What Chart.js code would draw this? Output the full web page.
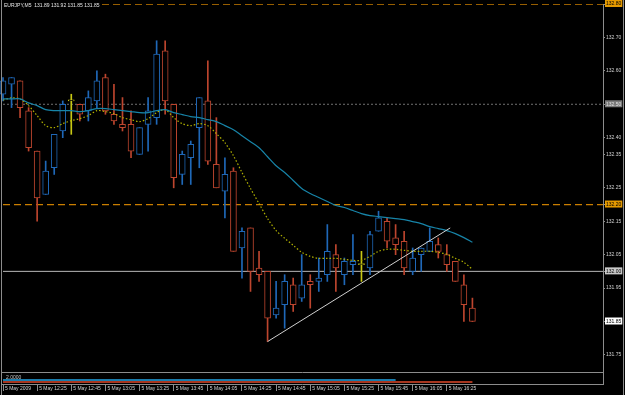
<!DOCTYPE html>
<html>
<head>
<meta charset="utf-8">
<script src="https://cdn.jsdelivr.net/npm/chart.js@4"></script>
<style>
  html, body { margin: 0; padding: 0; background: #000; }
  canvas { display: block; }
</style>
</head>
<body>
<canvas id="chart" width="625" height="395" style="width:625px;height:395px"></canvas>
<script>
// EURJPY M5, 5 May 2009, 12:05 .. 16:40 (one entry per bar)
const open = [132.53,132.56,132.57,132.48,132.36,132.23,132.31,132.42,132.51,132.50,132.48,132.51,132.58,132.47,132.44,132.44,132.35,132.44,132.46,132.66,132.50,132.29,132.34,132.43,132.51,132.32,132.24,132.30,132.07,132.13,132.01,132.00,131.87,131.90,131.96,131.92,131.97,131.97,131.99,132.05,131.99,132.02,132.02,132.01,132.12,132.15,132.10,132.09,132.00,132.05,132.06,132.08,132.05,132.03,131.96,131.89];
const high = [132.58,132.58,132.57,132.49,132.36,132.33,132.41,132.51,132.53,132.50,132.54,132.60,132.59,132.56,132.52,132.48,132.43,132.52,132.69,132.69,132.50,132.36,132.39,132.52,132.63,132.46,132.34,132.31,132.13,132.13,132.06,132.00,131.97,131.99,131.98,132.05,131.99,132.04,132.14,132.08,132.04,132.11,132.06,132.12,132.18,132.16,132.14,132.12,132.07,132.07,132.13,132.10,132.08,132.03,131.99,131.92];
const low = [132.51,132.49,132.46,132.36,132.15,132.23,132.29,132.40,132.41,132.45,132.45,132.49,132.47,132.44,132.42,132.34,132.35,132.36,132.44,132.47,132.25,132.26,132.26,132.31,132.32,132.25,132.16,132.06,131.98,131.94,131.97,131.79,131.86,131.83,131.88,131.91,131.89,131.94,131.97,131.94,131.96,131.99,131.97,131.99,132.12,132.07,132.05,131.99,131.99,132.00,132.06,132.04,132.00,131.97,131.85,131.85];
const close = [132.57,132.58,132.49,132.37,132.22,132.30,132.41,132.50,132.51,132.47,132.52,132.57,132.48,132.45,132.43,132.36,132.43,132.48,132.65,132.51,132.28,132.35,132.38,132.52,132.33,132.25,132.29,132.06,132.12,132.00,131.99,131.86,131.89,131.97,131.90,131.96,131.96,131.98,132.06,132.01,132.03,132.03,132.02,132.11,132.16,132.09,132.08,132.01,132.04,132.07,132.09,132.06,132.02,131.97,131.90,131.85];

// slow moving average (teal) and fast moving average (yellow dotted)
const maSlow = [132.516,132.516,132.516,132.504,132.496,132.484,132.481,132.481,132.481,132.478,132.481,132.487,132.487,132.484,132.481,132.478,132.475,132.475,132.481,132.484,132.475,132.469,132.463,132.460,132.454,132.448,132.436,132.424,132.406,132.388,132.370,132.343,132.316,132.296,132.272,132.248,132.233,132.221,132.209,132.197,132.191,132.182,132.173,132.167,132.164,132.161,132.158,132.155,132.149,132.143,132.134,132.128,132.122,132.113,132.101,132.087];
const maFast = [132.513,132.519,132.516,132.496,132.466,132.436,132.430,132.442,132.451,132.457,132.466,132.481,132.478,132.472,132.460,132.454,132.448,132.457,132.475,132.484,132.460,132.442,132.436,132.442,132.436,132.412,132.385,132.346,132.296,132.248,132.203,132.158,132.122,132.099,132.078,132.057,132.045,132.039,132.039,132.039,132.036,132.033,132.033,132.045,132.060,132.066,132.066,132.063,132.060,132.060,132.060,132.057,132.051,132.039,132.027,132.006];

// trend line (bar index, price)
const trendX = [31, 52.4];
const trendY = [131.79, 132.13];

// horizontal levels
const levelOrange = [132.80, 132.20];
const levelDotted = 132.50;
const levelSolid = 132.00;

// sub window lines (bar index range, value)
const subBlue = [[0, 0.67], [46, 0.67]];
const subRed = [[0, 0.33], [55, 0.33]];
const subLabel = '2.0000';

// axes
const priceTicks = [132.80, 132.70, 132.60, 132.50, 132.40, 132.35, 132.25, 132.20, 132.15, 132.05, 132.00, 131.95, 131.85, 131.75];
const boxedTicks = { '132.80': '#e59a00', '132.50': '#7a7a7a', '132.20': '#e59a00', '132.00': '#c8c8c8', '131.85': '#ffffff' };
const tickBars = [0, 4, 8, 12, 16, 20, 24, 28, 32, 36, 40, 44, 48, 52];
const tickLabels = ['5 May 2009', '5 May 12:25', '5 May 12:45', '5 May 13:05', '5 May 13:25', '5 May 13:45', '5 May 14:05', '5 May 14:25', '5 May 14:45', '5 May 15:05', '5 May 15:25', '5 May 15:45', '5 May 16:05', '5 May 16:25'];
const header = 'EURJPY,M5  131.89 131.92 131.85 131.85';

const mainBottom = 131.70;
const BG = '#000000';
const UP = '#1f68b8';
const DOWN = '#bd452e';
const DOJI = '#c8c814';
const FONT = 'Liberation Sans';

const candleColor = i => close[i] > open[i] ? UP : (close[i] < open[i] ? DOWN : DOJI);
const idx = open.map((_, i) => i);
const colors = idx.map(candleColor);
const xMax = 70.3;

const frame = {
  id: 'frame',
  beforeDraw(chart) {
    const c = chart.ctx;
    c.save();
    c.fillStyle = BG;
    c.fillRect(0, 0, chart.width, chart.height);
    c.restore();
  },
  afterDraw(chart) {
    const c = chart.ctx, a = chart.chartArea;
    const yb = Math.round(chart.scales.y.getPixelForValue(mainBottom)) + 0.5;
    c.save();
    c.strokeStyle = '#8c8c8c';
    c.lineWidth = 1;
    c.beginPath();
    c.moveTo(1.5, 0); c.lineTo(1.5, chart.height);
    c.moveTo(2, yb); c.lineTo(a.right, yb);
    c.moveTo(2, a.bottom + 0.5); c.lineTo(a.right, a.bottom + 0.5);
    c.moveTo(623.5, 0); c.lineTo(623.5, chart.height);
    c.stroke();
    c.fillStyle = BG;
    c.fillRect(3, 0, 98, 9);
    c.fillStyle = '#e6e6e6';
    c.font = '5px "' + FONT + '"';
    c.textBaseline = 'top';
    c.fillText(header, 4, 3);
    c.fillStyle = '#c8c8c8';
    c.fillText(subLabel, 6, yb + 3);
    c.restore();
  }
};

const hLine = (v, color, dash, width) => ({
  type: 'line',
  data: [{ x: 0, y: v }, { x: xMax, y: v }],
  borderColor: color, borderWidth: width, borderDash: dash,
  pointRadius: 0, order: 5, yAxisID: 'y'
});

new Chart(document.getElementById('chart'), {
  type: 'bar',
  data: {
    datasets: [
      ...levelOrange.map(v => hLine(v, '#c97e00', [7, 4], 1.3)),
      hLine(levelDotted, '#707070', [2, 2], 1),
      hLine(levelSolid, '#b8b8b8', [], 1),
      {
        label: 'wicks',
        data: idx.map(i => ({ x: i, y: [low[i], high[i]] })),
        backgroundColor: colors,
        barThickness: 1,
        grouped: false,
        order: 3,
        clip: false
      },
      {
        label: 'bodies',
        data: idx.map(i => ({ x: i, y: [open[i], close[i]] })),
        backgroundColor: BG,
        borderColor: colors,
        borderWidth: 1,
        borderSkipped: false,
        barThickness: 6,
        minBarLength: 1,
        grouped: false,
        order: 2,
        clip: false
      },
      {
        type: 'line',
        data: idx.map(i => ({ x: i, y: maSlow[i] })),
        borderColor: '#1784a8', borderWidth: 1.2,
        pointRadius: 0, tension: 0.3, order: 1
      },
      {
        type: 'line',
        data: idx.map(i => ({ x: i, y: maFast[i] })),
        borderColor: '#b0b000', borderWidth: 1.2, borderDash: [1.5, 2],
        pointRadius: 0, tension: 0.3, order: 1
      },
      {
        type: 'line',
        data: trendX.map((x, k) => ({ x, y: trendY[k] })),
        borderColor: '#d0d0d0', borderWidth: 1,
        pointRadius: 0, order: 0
      },
      {
        type: 'line',
        data: subBlue.map(p => ({ x: p[0], y: p[1] })),
        borderColor: '#22a6e6', borderWidth: 1.5,
        pointRadius: 0, yAxisID: 'ySub', order: 0
      },
      {
        type: 'line',
        data: subRed.map(p => ({ x: p[0], y: p[1] })),
        borderColor: '#e0482a', borderWidth: 1.5,
        pointRadius: 0, yAxisID: 'ySub', order: 0
      }
    ]
  },
  options: {
    responsive: false,
    animation: false,
    devicePixelRatio: 1,
    layout: { padding: { left: 3, top: 3, right: 0, bottom: 0 } },
    plugins: { legend: { display: false }, tooltip: { enabled: false } },
    scales: {
      x: {
        type: 'linear',
        min: 0,
        max: xMax,
        offset: false,
        afterBuildTicks: s => { s.ticks = tickBars.map(v => ({ value: v })); },
        afterFit: s => { s.height = 11; s.paddingLeft = 0; s.paddingRight = 0; },
        ticks: {
          autoSkip: false,
          maxRotation: 0,
          align: 'start',
          labelOffset: 2,
          padding: -5,
          color: '#d0d0d0',
          font: { family: FONT, size: 5 },
          callback: (v, i) => tickLabels[i]
        },
        grid: { drawOnChartArea: false, offset: false, tickLength: 7, color: '#8c8c8c' },
        border: { display: false }
      },
      y: {
        position: 'right',
        min: 131.663,
        max: 132.80,
        afterBuildTicks: s => { s.ticks = priceTicks.map(v => ({ value: v })); },
        afterFit: s => { s.width = 22; },
        ticks: {
          autoSkip: false,
          padding: 1,
          font: { family: FONT, size: 5 },
          callback: v => v.toFixed(2),
          color: ctx => {
            const k = ctx.tick.value.toFixed(2);
            if (k === '132.50') return '#e0e0e0';
            return boxedTicks[k] ? '#000' : '#d0d0d0';
          },
          showLabelBackdrop: ctx => !!boxedTicks[ctx.tick.value.toFixed(2)],
          backdropColor: ctx => boxedTicks[ctx.tick.value.toFixed(2)] || 'rgba(0,0,0,0)',
          backdropPadding: { top: 1, bottom: 0, left: 1, right: 1 }
        },
        grid: { drawOnChartArea: false, tickLength: 2, color: '#8c8c8c' },
        border: { color: '#8c8c8c' }
      },
      ySub: {
        display: false,
        position: 'right',
        min: 0,
        max: 63.5
      }
    }
  },
  plugins: [frame]
});
</script>
</body>
</html>
